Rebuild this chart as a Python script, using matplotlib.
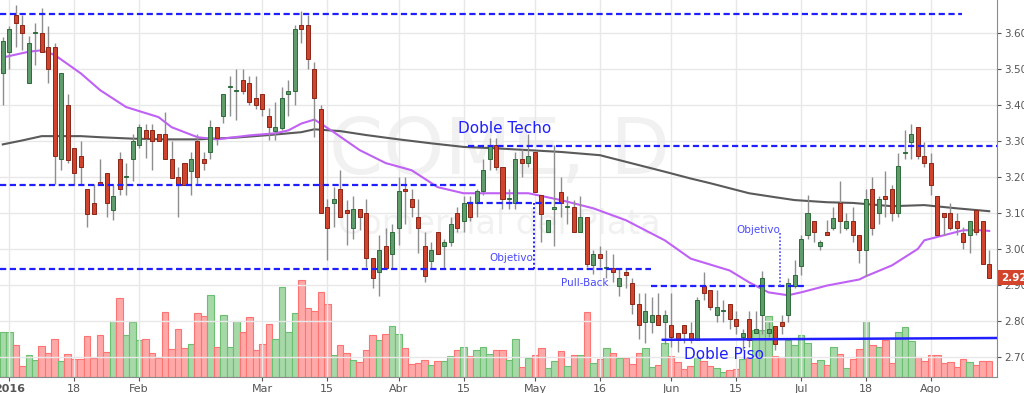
import numpy as np
import matplotlib
matplotlib.use("Agg")
import matplotlib.pyplot as plt

# --- datos diarios (COME, 30-dic-2015 .. 12-ago-2016) ---
opens = [3.49, 3.549, 3.651, 3.623, 3.461, 3.60, 3.60, 3.561, 3.561, 3.249,
         3.40, 3.28, 3.26, 3.168, 3.129, 3.187, 3.21, 3.108, 3.249, 3.20,
         3.249, 3.288, 3.331, 3.331, 3.319, 3.319, 3.249, 3.20, 3.238, 3.217,
         3.30, 3.249, 3.269, 3.339, 3.37, 3.451, 3.44, 3.47, 3.461, 3.421,
         3.43, 3.37, 3.329, 3.338, 3.43, 3.44, 3.623, 3.623, 3.50, 3.389,
         3.117, 3.129, 3.168, 3.108, 3.058, 3.11, 3.099, 2.976, 2.936, 3.008,
         2.987, 3.058, 3.168, 3.139, 3.089, 3.008, 2.966, 3.048, 3.008, 3.018,
         3.099, 3.077, 3.129, 3.129, 3.16, 3.249, 3.288, 3.229, 3.14, 3.129,
         3.249, 3.238, 3.27, 3.15, 3.048, 3.11, 3.159, 3.117, 3.117, 3.048,
         3.089, 2.955, 2.987, 2.947, 2.947, 2.897, 2.936, 2.906, 2.848, 2.797,
         2.797, 2.817, 2.797, 2.788, 2.767, 2.788, 2.767, 2.746, 2.897, 2.887,
         2.817, 2.827, 2.848, 2.806, 2.755, 2.806, 2.767, 2.817, 2.767, 2.786,
         2.797, 2.817, 2.897, 2.953, 3.038, 3.078, 3.008, 3.048, 3.057, 3.129,
         3.057, 3.078, 3.038, 2.997, 3.168, 3.099, 3.148, 3.168, 3.099, 3.268,
         3.298, 3.339, 3.259, 3.238, 3.148, 3.099, 3.099, 3.078, 3.043, 3.038,
         3.108, 3.078, 2.957]
highs = [3.59, 3.62, 3.68, 3.651, 3.593, 3.63, 3.672, 3.62, 3.572, 3.49,
         3.43, 3.28, 3.30, 3.168, 3.182, 3.249, 3.21, 3.178, 3.27, 3.24,
         3.321, 3.349, 3.349, 3.349, 3.32, 3.38, 3.30, 3.229, 3.238, 3.27,
         3.319, 3.27, 3.36, 3.339, 3.43, 3.481, 3.50, 3.50, 3.481, 3.481,
         3.43, 3.391, 3.41, 3.451, 3.47, 3.623, 3.662, 3.651, 3.521, 3.40,
         3.138, 3.173, 3.219, 3.135, 3.148, 3.11, 3.139, 2.976, 3.038, 3.057,
         3.069, 3.20, 3.20, 3.168, 3.139, 3.048, 3.018, 3.048, 3.029, 3.089,
         3.117, 3.148, 3.148, 3.168, 3.249, 3.31, 3.31, 3.229, 3.168, 3.27,
         3.277, 3.32, 3.27, 3.15, 3.08, 3.288, 3.20, 3.148, 3.135, 3.148,
         3.089, 2.997, 3.008, 2.997, 2.987, 2.947, 2.947, 2.918, 2.876, 2.876,
         2.866, 2.876, 2.829, 2.876, 2.767, 2.788, 2.797, 2.866, 2.936, 2.887,
         2.887, 2.857, 2.848, 2.827, 2.778, 2.827, 2.827, 2.938, 2.797, 2.786,
         2.815, 2.918, 2.969, 3.038, 3.15, 3.078, 3.024, 3.08, 3.117, 3.189,
         3.099, 3.117, 3.038, 3.168, 3.199, 3.148, 3.218, 3.177, 3.266, 3.331,
         3.349, 3.339, 3.298, 3.268, 3.148, 3.099, 3.129, 3.099, 3.061, 3.078,
         3.108, 3.078, 2.998]
lows = [3.40, 3.50, 3.563, 3.554, 3.461, 3.512, 3.549, 3.461, 3.18, 3.221,
        3.24, 3.179, 3.18, 3.06, 3.098, 3.18, 3.089, 3.08, 3.15, 3.15,
        3.19, 3.28, 3.252, 3.221, 3.30, 3.249, 3.198, 3.089, 3.178, 3.15,
        3.179, 3.221, 3.249, 3.288, 3.351, 3.37, 3.36, 3.43, 3.40, 3.39,
        3.37, 3.303, 3.303, 3.33, 3.37, 3.40, 3.574, 3.50, 3.312, 3.099,
        2.97, 3.061, 3.089, 3.01, 3.029, 3.052, 2.95, 2.89, 2.869, 2.947,
        2.947, 3.01, 3.069, 3.089, 2.99, 2.908, 2.947, 2.987, 2.943, 3.008,
        3.048, 3.048, 3.077, 3.089, 3.15, 3.219, 3.219, 3.11, 3.11, 3.11,
        3.20, 3.229, 3.159, 3.02, 3.048, 3.008, 3.089, 3.069, 3.048, 3.048,
        2.95, 2.93, 2.95, 2.918, 2.908, 2.869, 2.89, 2.82, 2.748, 2.738,
        2.767, 2.788, 2.736, 2.727, 2.713, 2.738, 2.738, 2.746, 2.857, 2.829,
        2.797, 2.797, 2.778, 2.764, 2.718, 2.727, 2.767, 2.764, 2.755, 2.718,
        2.764, 2.797, 2.89, 2.927, 3.029, 3.02, 2.997, 3.038, 3.052, 3.043,
        3.052, 3.02, 2.96, 2.924, 3.038, 3.07, 3.089, 3.078, 3.089, 3.249,
        3.249, 3.249, 3.229, 3.15, 3.038, 3.038, 3.052, 3.038, 3.001, 2.99,
        3.038, 2.957, 2.918]
closes = [3.58, 3.611, 3.63, 3.60, 3.572, 3.60, 3.549, 3.50, 3.26, 3.49,
          3.247, 3.21, 3.229, 3.098, 3.098, 3.18, 3.129, 3.148, 3.167, 3.20,
          3.30, 3.339, 3.308, 3.30, 3.30, 3.249, 3.198, 3.179, 3.178, 3.249,
          3.20, 3.238, 3.339, 3.308, 3.43, 3.451, 3.44, 3.44, 3.41, 3.40,
          3.389, 3.339, 3.339, 3.421, 3.44, 3.611, 3.611, 3.53, 3.421, 3.099,
          3.057, 3.139, 3.089, 3.099, 3.11, 3.089, 2.976, 2.918, 2.998, 2.947,
          3.048, 3.16, 3.16, 3.117, 3.058, 2.926, 2.997, 2.987, 3.018, 3.069,
          3.058, 3.129, 3.089, 3.16, 3.219, 3.288, 3.229, 3.14, 3.14, 3.249,
          3.238, 3.26, 3.159, 3.096, 3.08, 3.117, 3.129, 3.117, 3.048, 3.089,
          2.957, 2.987, 2.976, 2.947, 2.936, 2.918, 2.927, 2.848, 2.788, 2.828,
          2.817, 2.788, 2.817, 2.755, 2.746, 2.767, 2.746, 2.857, 2.876, 2.837,
          2.837, 2.827, 2.806, 2.786, 2.767, 2.746, 2.776, 2.918, 2.776, 2.736,
          2.786, 2.906, 2.927, 3.029, 3.099, 3.048, 3.018, 3.038, 3.085, 3.078,
          3.078, 3.038, 2.997, 3.139, 3.057, 3.139, 3.139, 3.099, 3.23, 3.268,
          3.319, 3.259, 3.238, 3.179, 3.038, 3.089, 3.057, 3.057, 3.02, 3.078,
          3.048, 2.957, 2.92]
# volumen (miles, escala arbitraria)
volumes = [456, 450, 323, 113, 223, 173, 313, 246, 380, 166,
           230, 183, 183, 413, 193, 423, 256, 566, 796, 423,
           550, 373, 380, 240, 193, 650, 280, 480, 290, 333,
           640, 613, 823, 303, 620, 306, 563, 450, 600, 270,
           333, 530, 380, 900, 453, 640, 976, 690, 663, 850,
           733, 223, 323, 246, 173, 150, 273, 420, 373, 433,
           513, 433, 290, 130, 140, 173, 123, 166, 163, 210,
           270, 306, 210, 270, 303, 233, 270, 273, 173, 380,
           106, 190, 223, 290, 90, 166, 263, 113, 223, 223,
           650, 140, 183, 290, 246, 193, 193, 133, 246, 290,
           100, 123, 346, 213, 150, 83, 113, 206, 166, 113,
           90, 56, 73, 86, 180, 206, 473, 473, 613, 213,
           200, 373, 323, 423, 346, 140, 173, 123, 306, 230,
           96, 180, 280, 563, 320, 306, 373, 140, 450, 500,
           363, 200, 163, 220, 220, 140, 150, 100, 186, 150,
           123, 163, 166]

# medias moviles (indice de rueda, valor)
ma_fast_idx = [0, 4, 6, 8, 12, 15, 19, 24, 26, 30, 33, 38, 42, 44, 46, 48, 49,
               51, 55, 59, 63, 67, 71, 76, 81, 86, 91, 96, 102, 106, 112, 115,
               118, 121, 123, 127, 132, 133, 137, 141, 142, 145, 148, 151, 152]
ma_fast = [3.533, 3.549, 3.553, 3.54, 3.489, 3.442, 3.395, 3.367, 3.339, 3.311,
           3.305, 3.316, 3.322, 3.33, 3.349, 3.36, 3.349, 3.325, 3.275, 3.239,
           3.219, 3.172, 3.155, 3.155, 3.155, 3.136, 3.113, 3.08, 3.024, 2.973,
           2.94, 2.907, 2.879, 2.871, 2.879, 2.898, 2.915, 2.924, 2.954, 3.0,
           3.024, 3.038, 3.052, 3.052, 3.05]
ma_slow_idx = [0, 3, 6, 12, 15, 20, 25, 30, 36, 41, 46, 48, 52, 56, 61, 66,
               71, 76, 81, 86, 92, 97, 102, 106, 109, 115, 119, 122, 127, 131,
               137, 142, 147, 152]
ma_slow = [3.291, 3.302, 3.314, 3.314, 3.311, 3.307, 3.305, 3.305, 3.31, 3.317,
           3.325, 3.333, 3.328, 3.317, 3.305, 3.294, 3.284, 3.28, 3.275, 3.27,
           3.261, 3.238, 3.215, 3.196, 3.183, 3.155, 3.144, 3.136, 3.13, 3.128,
           3.119, 3.122, 3.113, 3.105]

tick_idx = [1, 11, 21, 40, 50, 61, 71, 82, 92, 103, 113, 123, 133, 143]
tick_labels = ["2016", "18", "Feb", "Mar", "15", "Abr", "15", "May", "16",
               "Jun", "15", "Jul", "18", "Ago"]
price_ticks = [2.70, 2.80, 2.90, 3.00, 3.10, 3.20, 3.30, 3.40, 3.50, 3.60]

o = np.array(opens); h = np.array(highs); l = np.array(lows); c = np.array(closes)
v = np.array(volumes)
x = np.arange(len(c))
up = c >= o

fig = plt.figure(figsize=(10.24, 3.93), dpi=100)
fig.patch.set_facecolor("white")
pos = [0, 1 - 377.3 / 393, 997 / 1024, 377.3 / 393]
ax_v = fig.add_axes(pos, zorder=1)
ax = fig.add_axes(pos, zorder=2, sharex=ax_v)
ax_v.patch.set_visible(False)
ax.patch.set_visible(False)

# marca de agua
fig.text(0.488, 0.612, "COME, D", fontsize=56, color="#f1f1f1", ha="center", va="center", zorder=0)
fig.text(0.488, 0.43, "Comercial del Plata", fontsize=24, color="#f1f1f1", ha="center", va="center", zorder=0)

# volumen
vcol = np.where(up, "#a6d8a8", "#ffa8a8")
vedge = np.where(up, "#6cbf70", "#ff7373")
ax_v.bar(x, v, width=1.0, color=vcol, edgecolor=vedge, linewidth=0.8)
ax_v.set_ylim(0, 3773)
ax_v.axis("off")

# grilla
ax.set_xlim(-0.43, 153.2)
ax.set_ylim(2.6426, 3.693)
for t in tick_idx:
    ax.axvline(t, color="#e8e8e8", lw=1, zorder=0)
for p in price_ticks:
    ax.axhline(p, color="#e8e8e8", lw=1, zorder=0)

# medias moviles
ax.plot(ma_slow_idx, ma_slow, color="#5a5a5a", lw=1.5, zorder=2)
ax.plot(ma_fast_idx, ma_fast, color="#c061f5", lw=1.5, zorder=2)

# velas
ax.vlines(x, l, h, color="#8e8e8e", lw=1, zorder=3)
body = np.maximum(np.abs(c - o), 0.003)
ax.bar(x[up], body[up], bottom=np.minimum(o, c)[up], width=0.62,
       color="#5e9c6c", edgecolor="#2d6a3a", linewidth=0.7, zorder=4)
ax.bar(x[~up], body[~up], bottom=np.minimum(o, c)[~up], width=0.62,
       color="#d0442e", edgecolor="#8a2618", linewidth=0.7, zorder=4)

# lineas de soporte / resistencia
blue = "#1f1fff"
dash = (0, (2.8, 1.6))
ax.hlines(3.654, -0.43, 147.8, color=blue, lw=1.6, linestyle=dash, zorder=5)
ax.hlines(3.179, -0.43, 73.1, color=blue, lw=1.6, linestyle=dash, zorder=5)
ax.hlines(2.944, -0.43, 99.9, color=blue, lw=1.6, linestyle=dash, zorder=5)
ax.hlines(3.287, 71.7, 153.2, color=blue, lw=1.6, linestyle=dash, zorder=5)
ax.hlines(3.128, 71.5, 86.2, color=blue, lw=1.6, linestyle=dash, zorder=5)
ax.vlines(81.9, 2.944, 3.128, color=blue, lw=1.4, linestyle=(0, (1, 1.2)), zorder=5)
ax.hlines(2.896, 99.9, 123.8, color=blue, lw=1.6, linestyle=dash, zorder=5)
ax.vlines(119.8, 2.896, 3.043, color="#4a4aff", lw=1.2, linestyle=(0, (1, 1.2)), zorder=5)
ax.plot([101.7, 153.2], [2.747, 2.752], color=blue, lw=1.8, zorder=5)

ax.text(77.3, 3.336, "Doble Techo", color=blue, fontsize=11, ha="center", va="center", zorder=6)
ax.text(78.3, 2.975, "Objetivo", color="#4a4aff", fontsize=7.5, ha="center", va="center", zorder=6)
ax.text(89.7, 2.905, "Pull-Back", color="#4a4aff", fontsize=7.5, ha="center", va="center", zorder=6)
ax.text(116.4, 3.053, "Objetivo", color="#4a4aff", fontsize=7.5, ha="center", va="center", zorder=6)
ax.text(111.2, 2.706, "Doble Piso", color=blue, fontsize=11, ha="center", va="center", zorder=6)

# ejes
ax.yaxis.tick_right()
ax.set_yticks(price_ticks)
ax.set_yticklabels([f"{p:.2f}" for p in price_ticks])
ax.set_xticks(tick_idx)
ax.set_xticklabels(tick_labels)
ax.get_xticklabels()[0].set_fontweight("bold")
ax.tick_params(axis="y", length=3, pad=2, labelsize=7.5, colors="#555555")
ax.tick_params(axis="x", length=3, pad=2, labelsize=8, colors="#555555")
for s in ["top", "left"]:
    ax.spines[s].set_visible(False)
for s in ["right", "bottom"]:
    ax.spines[s].set_color("#8a8a8a")

# etiqueta del ultimo precio
ax.text(1.004, c[-1], f"{c[-1]:.2f}", transform=ax.get_yaxis_transform(),
        ha="left", va="center", color="white", fontsize=7.5, fontweight="bold",
        bbox=dict(boxstyle="square,pad=0.25", fc="#d2452c", ec="none"),
        clip_on=False, zorder=10)

fig.savefig("out.png", dpi=100)
